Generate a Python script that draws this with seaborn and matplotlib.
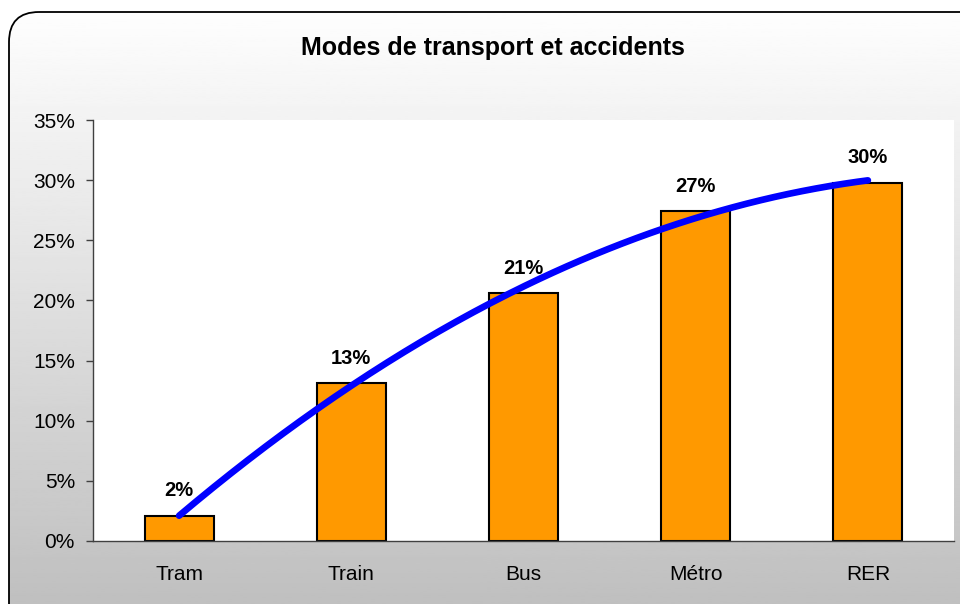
import numpy as np
import pandas as pd
import seaborn as sns
import matplotlib
matplotlib.use('Agg')
import matplotlib.pyplot as plt
from matplotlib.patches import FancyBboxPatch

# données
modes = ['Tram', 'Train', 'Bus', 'Métro', 'RER']
accidents = [2.1, 13.1, 20.6, 27.4, 29.8]
etiquettes = ['2%', '13%', '21%', '27%', '30%']

data = pd.DataFrame({'Mode': modes, 'Accidents': accidents})

sns.set_style('white')
plt.rcParams['font.family'] = ['Liberation Sans', 'DejaVu Sans']
plt.rcParams['text.color'] = 'black'
plt.rcParams['xtick.labelcolor'] = 'black'
plt.rcParams['ytick.labelcolor'] = 'black'

fig = plt.figure(figsize=(9.6, 6.04), dpi=100)

# fond : cadre arrondi avec dégradé blanc -> gris
bg = fig.add_axes([0, 0, 1, 1])
bg.set_xlim(0, 960)
bg.set_ylim(604, 0)
bg.axis('off')
grad = np.linspace(1.0, 0.75, 300).reshape(-1, 1)
img = bg.imshow(grad, cmap='gray', vmin=0, vmax=1, aspect='auto',
                extent=[0, 960, 604, 0], zorder=0)
cadre = FancyBboxPatch((9, 12), 990, 640, boxstyle='round,pad=0,rounding_size=30',
                       facecolor='none', edgecolor='black', linewidth=1.3, zorder=1)
bg.add_patch(cadre)
img.set_clip_path(cadre)

ax = fig.add_axes([93 / 960, 1 - 541 / 604, (954 - 93) / 960, (541 - 120) / 604])
ax.set_facecolor('white')
sns.barplot(ax=ax, x='Mode', y='Accidents', data=data, color='#FF9900',
            width=0.4, edgecolor='black', linewidth=1.5, saturation=1, zorder=2)

# courbe de tendance (polynôme d'ordre 2)
pos = np.arange(len(modes))
coef = np.polyfit(pos, accidents, 2)
xs = np.linspace(0, len(modes) - 1, 200)
ax.plot(xs, np.polyval(coef, xs), color='#0000FF', linewidth=4.8,
        solid_capstyle='round', zorder=3)

for i, (v, t) in enumerate(zip(accidents, etiquettes)):
    ax.annotate(t, (i, v), xytext=(0, 11), textcoords='offset points',
                ha='center', va='bottom', fontsize=14.5, fontweight='bold', zorder=4)

ax.set_xlim(-0.5, len(modes) - 0.5)
ax.set_ylim(0, 35)
ax.set_yticks(range(0, 36, 5))
ax.set_yticklabels([f'{v}%' for v in range(0, 36, 5)], fontsize=15)
ax.set_xticks(pos)
ax.set_xticklabels(modes, fontsize=15)
ax.set_xticks(np.arange(-0.5, len(modes)), minor=True)
ax.tick_params(axis='x', which='major', length=0, pad=17)
ax.tick_params(axis='x', which='minor', length=5, width=1, color='#404040', direction='out')
ax.tick_params(axis='y', length=5, width=1, color='#404040', direction='out', left=True, pad=8)
ax.set_xlabel('')
ax.set_ylabel('')
for s in ['top', 'right']:
    ax.spines[s].set_visible(False)
for s in ['left', 'bottom']:
    ax.spines[s].set_color('#404040')
    ax.spines[s].set_linewidth(1)

fig.text(493 / 960, 1 - 48 / 604, 'Modes de transport et accidents', ha='center', va='center',
         fontsize=18, fontweight='bold')

fig.savefig('out.png', dpi=100)
